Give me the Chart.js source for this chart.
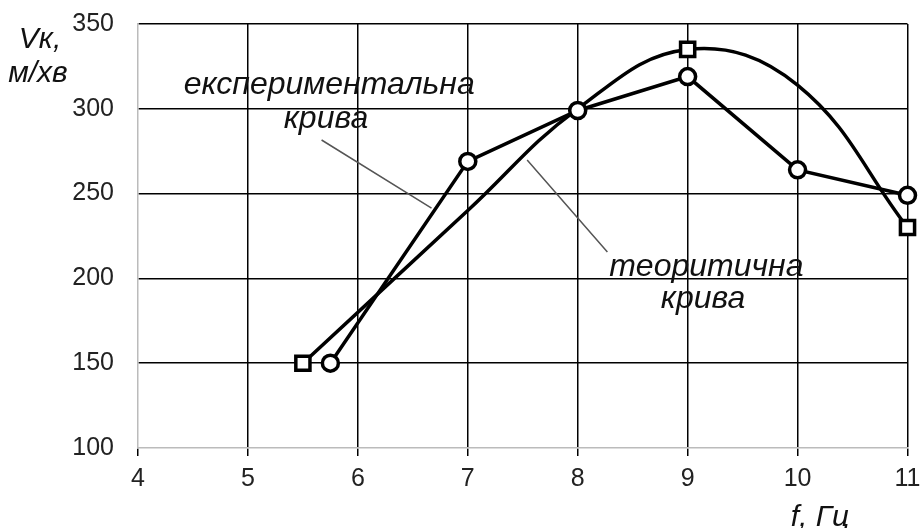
<!DOCTYPE html>
<html>
<head>
<meta charset="utf-8">
<script src="https://cdn.jsdelivr.net/npm/chart.js@4"></script>
<style>
  body { margin: 0; background: #fff; }
  canvas { display: block; }
</style>
</head>
<body>
<canvas id="chart" width="921" height="528"></canvas>
<script>
// ---- Дані ----
const expX = [5.75, 7, 8, 9, 10, 11];
const expY = [150, 269, 299, 319, 264, 249];

const theoX = [5.5, 7, 8, 9, 10, 11];
const theoY = [150, 240, 300, 335, 314, 230];
const theoMarked = [true, false, false, true, false, true];

const xTicks = [4, 5, 6, 7, 8, 9, 10, 11];
const yTicks = [100, 150, 200, 250, 300, 350];

const expLabel = ["експериментальна", "крива"];
const theoLabel = ["теоритична", "крива"];
const yTitle = ["Vк,", "м/хв"];
const xTitle = "f, Гц";

const FONT = "'Liberation Sans', Arial, sans-serif";

// ---- Підписи та виноски ----
const notes = {
  id: "notes",
  afterDraw(chart) {
    const { ctx, scales: { x, y } } = chart;
    const px = v => x.getPixelForValue(v);
    const py = v => y.getPixelForValue(v);
    ctx.save();

    // виноски
    ctx.strokeStyle = "#555";
    ctx.lineWidth = 1.5;
    ctx.beginPath();
    ctx.moveTo(px(5.67), py(281.6));
    ctx.lineTo(px(6.67), py(241.5));
    ctx.moveTo(px(7.54), py(269.8));
    ctx.lineTo(px(8.27), py(215.6));
    ctx.stroke();

    ctx.fillStyle = "#111";
    ctx.font = "italic 32px " + FONT;
    ctx.textAlign = "center";
    ctx.textBaseline = "alphabetic";
    ctx.fillText(expLabel[0], px(5.74), py(309));
    ctx.fillText(expLabel[1], px(5.71), py(288.5));
    ctx.fillText(theoLabel[0], px(9.17), py(201.5));
    ctx.fillText(theoLabel[1], px(9.14), py(182.5));

    // назви осей
    ctx.font = "italic 30px " + FONT;
    ctx.textAlign = "center";
    ctx.fillText(yTitle[0], 40, 48);
    ctx.fillText(yTitle[1], 38, 82);
    ctx.fillText(xTitle, 820, 526);
    ctx.restore();
  }
};

const ctx = document.getElementById("chart").getContext("2d");
new Chart(ctx, {
  type: "line",
  data: {
    datasets: [
      {
        label: "експериментальна крива",
        data: expX.map((v, i) => ({ x: v, y: expY[i] })),
        borderColor: "#000",
        borderWidth: 3.5,
        tension: 0,
        pointStyle: "circle",
        pointRadius: 8,
        pointBorderWidth: 3.5,
        pointBackgroundColor: "#fff",
        pointBorderColor: "#000",
      },
      {
        label: "теоритична крива",
        data: theoX.map((v, i) => ({ x: v, y: theoY[i] })),
        borderColor: "#000",
        borderWidth: 3.5,
        tension: 0.4,
        pointStyle: "rect",
        pointRadius: theoMarked.map(m => (m ? 10 : 0)),
        pointBorderWidth: 3.5,
        pointBackgroundColor: "#fff",
        pointBorderColor: "#000",
      },
    ],
  },
  options: {
    responsive: false,
    animation: false,
    clip: false,
    layout: { padding: { top: 24, right: 13, left: 0, bottom: 0 } },
    plugins: { legend: { display: false }, tooltip: { enabled: false } },
    scales: {
      x: {
        type: "linear",
        min: 4,
        max: 11,
        afterBuildTicks: s => { s.ticks = xTicks.map(v => ({ value: v })); },
        afterFit: s => {
          s.height = 80;
          s.paddingLeft = 0;
          s.paddingRight = 0;
        },
        border: { color: "#bbb", width: 1.5 },
        grid: {
          color: c => (c.tick && c.tick.value === 4 ? "transparent" : "#000"),
          lineWidth: 1.5,
          drawTicks: true,
          tickLength: 8,
          tickColor: "#000",
        },
        ticks: {
          color: "#222",
          font: { family: FONT, size: 25 },
          padding: 8,
          maxRotation: 0,
        },
      },
      y: {
        min: 100,
        max: 350,
        afterBuildTicks: s => { s.ticks = yTicks.map(v => ({ value: v })); },
        afterFit: s => {
          s.width = 138;
          s.paddingTop = 0;
          s.paddingBottom = 0;
        },
        border: { color: "#bbb", width: 1.5 },
        grid: {
          color: c => (c.tick && c.tick.value === 100 ? "transparent" : "#000"),
          lineWidth: 1.5,
          drawTicks: false,
        },
        ticks: {
          color: "#222",
          font: { family: FONT, size: 25 },
          padding: 24,
        },
      },
    },
  },
  plugins: [notes],
});
</script>
</body>
</html>
